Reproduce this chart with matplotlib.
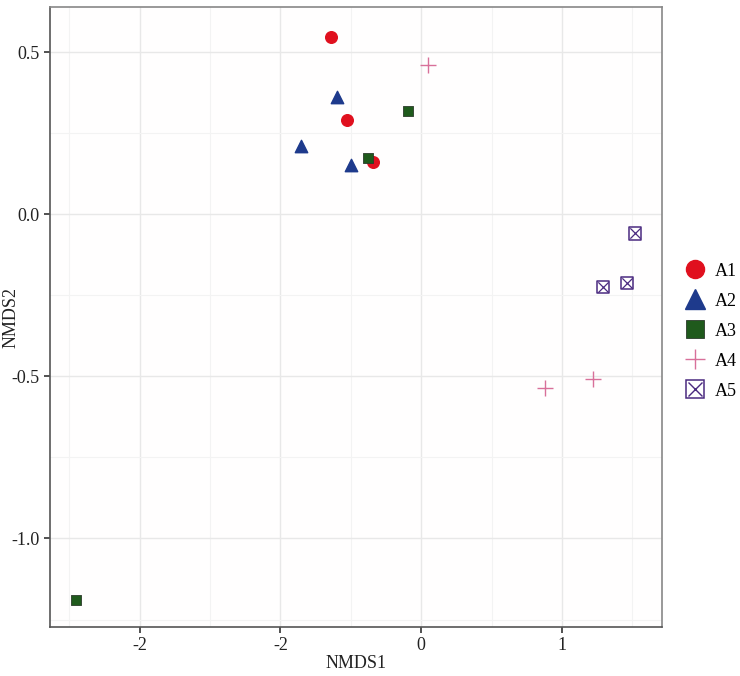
import matplotlib
matplotlib.use("Agg")
import matplotlib.pyplot as plt
from matplotlib.lines import Line2D
from matplotlib.legend_handler import HandlerTuple

plt.rcParams['font.family'] = ['Liberation Serif', 'DejaVu Serif']

groups = ["A1", "A2", "A3", "A4", "A5"]
a1_x = [-0.639, -0.526, -0.341]
a1_y = [0.546, 0.290, 0.160]
a2_x = [-0.597, -0.852, -0.497]
a2_y = [0.361, 0.210, 0.151]
a3_x = [-0.376, -0.092, -2.45]
a3_y = [0.173, 0.318, -1.19]
a4_x = [0.05, 0.88, 1.22]
a4_y = [0.459, -0.537, -0.509]
a5_x = [1.52, 1.29, 1.46]
a5_y = [-0.059, -0.225, -0.213]

x_ticks = [-2, -1, 0, 1]
x_ticklabels = ["-2", "-2", "0", "1"]
y_ticks = [-1.0, -0.5, 0.0, 0.5]
y_ticklabels = ["-1.0", "-0.5", "0.0", "0.5"]

c_red = "#E0101E"
c_blue = "#1E3A8C"
c_green = "#1F5A1C"
c_pink = "#D8709A"
c_purple = "#4A2A80"

W, H = 740, 676
fig = plt.figure(figsize=(7.4, 6.76), dpi=100)
ax = fig.add_axes([50/W, 1-627/H, (662-50)/W, (627-7)/H])
ax.set_facecolor("#FFFEFE")

ax.scatter(a1_x, a1_y, s=70, marker='o', color=c_red, edgecolor=c_red, zorder=3)
ax.scatter(a2_x, a2_y, s=80, marker='^', color=c_blue, edgecolor=c_blue, zorder=3)
ax.scatter(a3_x, a3_y, s=60, marker='s', color=c_green, edgecolor="#2b3a2b", linewidths=0.6, zorder=3)
ax.scatter(a4_x, a4_y, s=130, marker='+', color=c_pink, linewidths=1.0, zorder=3)
ax.scatter(a5_x, a5_y, s=80, marker='s', facecolor='none', edgecolor=c_purple, linewidths=1.1, zorder=3)
ax.scatter(a5_x, a5_y, s=55, marker='x', color=c_purple, linewidths=0.9, zorder=3)

ax.set_xlim(-2.636, 1.71)
ax.set_ylim(-1.273, 0.639)
ax.set_xticks(x_ticks)
ax.set_xticklabels(x_ticklabels)
ax.set_yticks(y_ticks)
ax.set_yticklabels(y_ticklabels)
ax.set_xticks([-2.5, -1.5, -0.5, 0.5, 1.5], minor=True)
ax.set_yticks([-1.25, -0.75, -0.25, 0.25], minor=True)
ax.tick_params(which='minor', length=0)
ax.tick_params(which='major', length=4, width=1.2, color="#333333", labelsize=13, colors="#222222")
ax.grid(which='major', color="#E8E8E8", linewidth=1.0, zorder=0)
ax.grid(which='minor', color="#F3F3F3", linewidth=0.8, zorder=0)
ax.set_axisbelow(True)
for sp in ax.spines.values():
    sp.set_color("#888888")
    sp.set_linewidth(1.2)
ax.spines['left'].set_color("#555555")
ax.spines['bottom'].set_color("#555555")

fig.text(356/W, 1-663/H, "NMDS1", fontsize=13, color="#222222", ha='center', va='center')
fig.text(11/W, 1-317/H, "NMDS2", fontsize=13, color="#222222", ha='center', va='center', rotation=90)

h1 = Line2D([], [], linestyle='none', marker='o', markersize=13, color=c_red)
h2 = Line2D([], [], linestyle='none', marker='^', markersize=14, color=c_blue)
h3 = Line2D([], [], linestyle='none', marker='s', markersize=12.5, color=c_green, markeredgecolor="#2b3a2b", markeredgewidth=0.6)
h4 = Line2D([], [], linestyle='none', marker='+', markersize=15, color=c_pink, markeredgewidth=1.0)
h5a = Line2D([], [], linestyle='none', marker='s', markersize=13, markerfacecolor='none', markeredgecolor=c_purple, markeredgewidth=1.1)
h5b = Line2D([], [], linestyle='none', marker='x', markersize=9.5, color=c_purple, markeredgewidth=1.0)
leg = fig.legend([h1, h2, h3, h4, (h5a, h5b)], groups,
                 handler_map={tuple: HandlerTuple(ndivide=1, pad=0)},
                 loc='center left', bbox_to_anchor=(672/W, 1-331/H),
                 frameon=False, fontsize=13, labelspacing=0.72, handletextpad=0.45,
                 handlelength=1.2, borderpad=0.2)

fig.savefig("out.png", dpi=100, facecolor="white")
